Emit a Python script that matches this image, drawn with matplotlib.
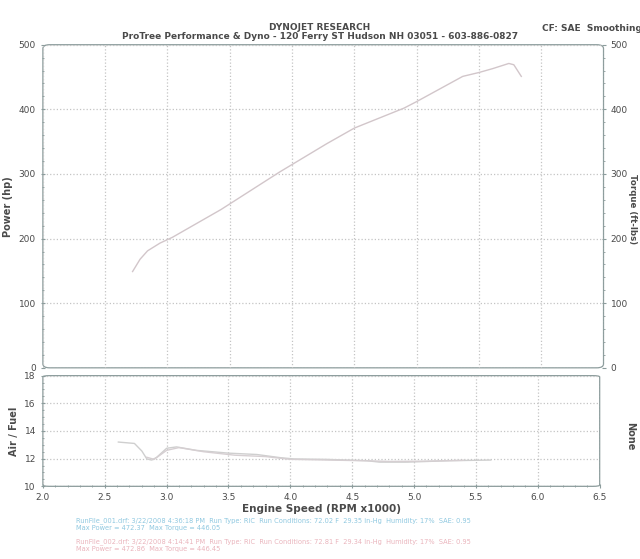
import matplotlib.pyplot as plt
import numpy as np
from matplotlib.patches import FancyBboxPatch
from matplotlib.ticker import MultipleLocator

# power run (rpm x1000, hp)
rpm_pwr = [2.72, 2.78, 2.84, 2.94, 3.04, 3.43, 3.90, 4.28, 4.50, 4.90, 5.00, 5.37, 5.50, 5.61, 5.74, 5.78, 5.84]
power = [149, 168, 181, 193, 202, 245, 303, 347, 371, 402, 412, 451, 457, 463, 471, 469, 451]

# air/fuel, two runs
rpm_af1 = [2.61, 2.74, 2.80, 2.84, 2.88, 2.92, 3.00, 3.08, 3.24, 3.50, 3.73, 3.92, 4.03, 4.29, 4.62, 4.72, 4.95, 5.28, 5.62]
af1 = [13.2, 13.1, 12.55, 11.98, 11.9, 12.1, 12.75, 12.85, 12.6, 12.4, 12.3, 12.07, 11.98, 11.95, 11.85, 11.75, 11.75, 11.85, 11.9]
rpm_af2 = [2.84, 2.90, 3.00, 3.10, 3.30, 3.55, 3.80, 4.00, 4.30, 4.60, 4.80, 5.10, 5.40]
af2 = [12.1, 11.95, 12.6, 12.8, 12.5, 12.25, 12.15, 11.95, 11.9, 11.85, 11.8, 11.82, 11.88]

xticks = [2.0, 2.5, 3.0, 3.5, 4.0, 4.5, 5.0, 5.5, 6.0, 6.5]

txt = '#4a4a4a'
frame = '#8c9c9c'
grid = '#c4c4c4'

fig = plt.figure(figsize=(6.4, 5.59), dpi=100)
ax = fig.add_axes([0.067, 0.342, 0.876, 0.578])
ax2 = fig.add_axes([0.067, 0.130, 0.870, 0.198])

for a in (ax, ax2):
    for s in a.spines.values():
        s.set_visible(False)
    a.add_patch(FancyBboxPatch((0, 0), 1, 1, boxstyle='round,pad=0,rounding_size=0.012',
                               transform=a.transAxes, fill=False, ec=frame, lw=0.9, clip_on=False))
    a.set_xlim(2.0, 6.5)
    a.xaxis.set_major_locator(MultipleLocator(0.5))
    a.grid(True, ls=':', color=grid, lw=0.9)
    a.tick_params(colors=frame, labelcolor=txt, labelsize=6.5, length=3, direction='inout')
    a.tick_params(which='minor', colors=frame, length=2, direction='inout')

# top panel
ax.plot(rpm_pwr, power, color='#d2c6ca', lw=1.0)
ax.set_ylim(0, 500)
ax.yaxis.set_major_locator(MultipleLocator(100))
ax.yaxis.set_minor_locator(MultipleLocator(20))
ax.tick_params(labelbottom=False, bottom=False)
ax.tick_params(axis='y', which='both', right=True, labelright=True)
ax.set_ylabel('Power (hp)', color=txt, fontsize=7, fontweight='bold')
ax.text(1.044, 0.49, 'Torque (ft-lbs)', transform=ax.transAxes, rotation=270,
        va='center', ha='left', color=txt, fontsize=6.2, fontweight='bold')

# bottom panel
ax2.plot(rpm_af1, af1, color='#cfcfcf', lw=1.0)
ax2.plot(rpm_af2, af2, color='#d6cfd2', lw=1.0)
ax2.set_ylim(10, 18)
ax2.set_yticks([10, 12, 14, 16, 18])
ax2.yaxis.set_minor_locator(MultipleLocator(0.5))
ax2.xaxis.set_minor_locator(MultipleLocator(0.1))
ax2.set_xticks(xticks)
ax2.set_xticklabels(['%.1f' % v for v in xticks])
ax2.set_ylabel('Air / Fuel', color=txt, fontsize=7, fontweight='bold')
ax2.set_xlabel('Engine Speed (RPM x1000)', color=txt, fontsize=7.5, fontweight='bold', labelpad=1)
ax2.text(1.045, 0.45, 'None', transform=ax2.transAxes, rotation=270,
         va='center', ha='left', color=txt, fontsize=7, fontweight='bold')

# header
fig.text(0.5, 0.947, 'DYNOJET RESEARCH', ha='center', color=txt, fontsize=6.5, fontweight='bold')
fig.text(0.5, 0.930, 'ProTree Performance & Dyno - 120 Ferry ST Hudson NH 03051 - 603-886-0827',
         ha='center', color=txt, fontsize=6.5, fontweight='bold')
fig.text(0.847, 0.944, 'CF: SAE  Smoothing: 5', ha='left', color=txt, fontsize=6.5, fontweight='bold')

# run info
blue = '#8fc8e0'
pink = '#eab4bc'
fig.text(0.118, 0.066, 'RunFile_001.drf: 3/22/2008 4:36:18 PM  Run Type: RiC  Run Conditions: 72.02 F  29.35 in-Hg  Humidity: 17%  SAE: 0.95',
         color=blue, fontsize=4.8)
fig.text(0.118, 0.052, 'Max Power = 472.37  Max Torque = 446.05', color=blue, fontsize=4.8)
fig.text(0.118, 0.029, 'RunFile_002.drf: 3/22/2008 4:14:41 PM  Run Type: RiC  Run Conditions: 72.81 F  29.34 in-Hg  Humidity: 17%  SAE: 0.95',
         color=pink, fontsize=4.8)
fig.text(0.118, 0.015, 'Max Power = 472.86  Max Torque = 446.45', color=pink, fontsize=4.8)

fig.savefig('out.png', dpi=100, facecolor='white')
